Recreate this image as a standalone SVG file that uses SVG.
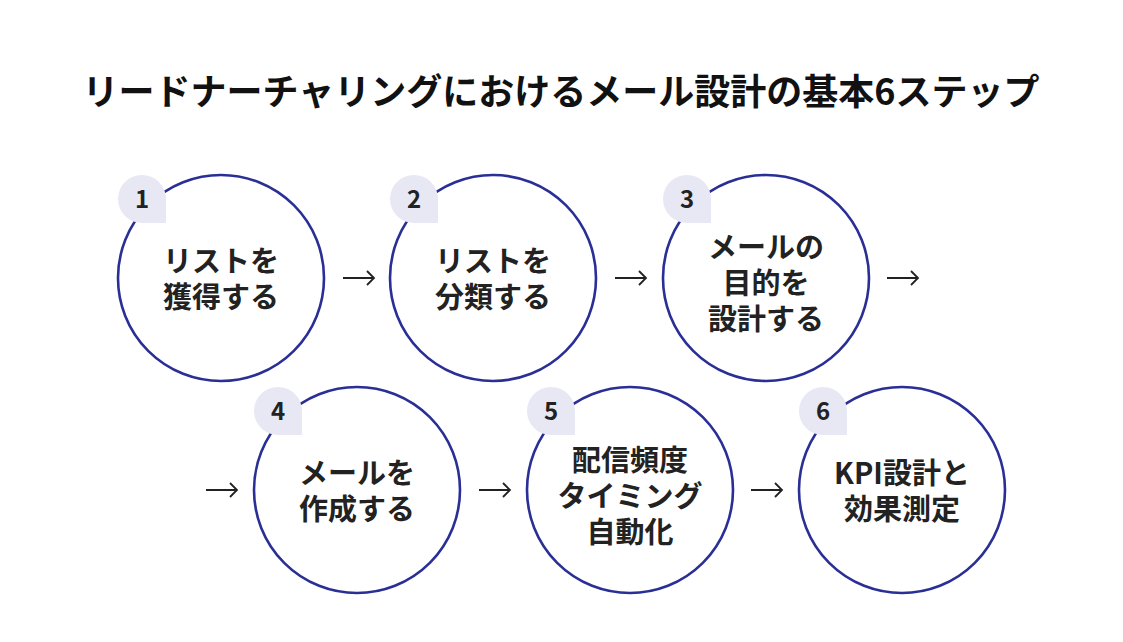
<svg xmlns="http://www.w3.org/2000/svg" width="1123" height="642" viewBox="0 0 1123 642">
<style>
.c{fill:#fff;stroke:#2a2f96;stroke-width:2.6}
.b{fill:#e8e8f5}
.n{font-family:"Noto Sans CJK JP","Noto Sans",sans-serif;font-weight:700;font-size:24px;fill:#222;text-anchor:middle}
.t{font-family:"Noto Sans CJK JP","Noto Sans",sans-serif;font-weight:700;font-size:29px;fill:#222;text-anchor:middle}
.h{font-family:"Noto Sans CJK JP","Noto Sans",sans-serif;font-weight:700;font-size:36px;fill:#111;text-anchor:middle}
.a{fill:none;stroke:#222;stroke-width:1.8}
</style>
<defs>
<path id="badge" d="M-24,0 A24,24 0 1 1 24,0 L24,24 L0,24 A24,24 0 0 1 -24,0 Z"/>
</defs>
<rect width="1123" height="642" fill="#fff"/>
<text class="h" x="561" y="105">リードナーチャリングにおけるメール設計の基本6ステップ</text>

<g id="connectors">
<g transform="translate(343,278)"><path class="a" d="M0,0 H31 M24,-7 L31,0 L24,7"/></g>
<g transform="translate(615,278)"><path class="a" d="M0,0 H31 M24,-7 L31,0 L24,7"/></g>
<g transform="translate(887,278)"><path class="a" d="M0,0 H31 M24,-7 L31,0 L24,7"/></g>
<g transform="translate(206,490)"><path class="a" d="M0,0 H31 M24,-7 L31,0 L24,7"/></g>
<g transform="translate(479,490)"><path class="a" d="M0,0 H31 M24,-7 L31,0 L24,7"/></g>
<g transform="translate(751,490)"><path class="a" d="M0,0 H31 M24,-7 L31,0 L24,7"/></g>
</g>

<g id="step1">
<circle class="c" cx="221" cy="278" r="103"/>
<use href="#badge" class="b" x="142" y="199"/>
<text class="n" x="142" y="208">1</text>
<text class="t"><tspan x="221" y="272">リストを</tspan><tspan x="221" y="308">獲得する</tspan></text>
</g>
<g id="step2">
<circle class="c" cx="493" cy="278" r="103"/>
<use href="#badge" class="b" x="414" y="199"/>
<text class="n" x="414" y="208">2</text>
<text class="t"><tspan x="493" y="272">リストを</tspan><tspan x="493" y="308">分類する</tspan></text>
</g>
<g id="step3">
<circle class="c" cx="766" cy="278" r="103"/>
<use href="#badge" class="b" x="687" y="199"/>
<text class="n" x="687" y="208">3</text>
<text class="t"><tspan x="766" y="258">メールの</tspan><tspan x="766" y="294">目的を</tspan><tspan x="766" y="330">設計する</tspan></text>
</g>
<g id="step4">
<circle class="c" cx="357" cy="490" r="103"/>
<use href="#badge" class="b" x="278" y="411"/>
<text class="n" x="278" y="420">4</text>
<text class="t"><tspan x="357" y="484">メールを</tspan><tspan x="357" y="520">作成する</tspan></text>
</g>
<g id="step5">
<circle class="c" cx="630" cy="490" r="103"/>
<use href="#badge" class="b" x="551" y="411"/>
<text class="n" x="551" y="420">5</text>
<text class="t"><tspan x="630" y="471">配信頻度</tspan><tspan x="630" y="507">タイミング</tspan><tspan x="630" y="543">自動化</tspan></text>
</g>
<g id="step6">
<circle class="c" cx="902" cy="490" r="103"/>
<use href="#badge" class="b" x="823" y="411"/>
<text class="n" x="823" y="420">6</text>
<text class="t"><tspan x="902" y="484">KPI設計と</tspan><tspan x="902" y="520">効果測定</tspan></text>
</g>
</svg>
